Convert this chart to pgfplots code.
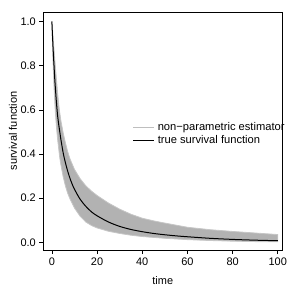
\documentclass[border=0pt]{standalone}
\usepackage{fontspec}
\setmainfont{Liberation Sans}
\usepackage{pgfplots}
\pgfplotsset{compat=1.18}
\definecolor{band}{RGB}{178,178,178}
\definecolor{bandedge}{RGB}{198,198,198}
\definecolor{rgray}{RGB}{190,190,190}
\begin{document}
\begin{tikzpicture}
\begin{axis}[name=ax, scale only axis, width=239bp, height=238bp,
  xmin=-3.8, xmax=102, ymin=-0.035, ymax=1.043,
  axis line style={line width=0.6bp},
  xtick={0,20,40,60,80,100}, ytick={0,0.2,0.4,0.6,0.8,1.0},
  tick align=outside, tick pos=left, major tick length=4bp,
  every tick/.style={black, line width=0.6bp},
  /pgf/number format/assume math mode=true,
  yticklabel style={/pgf/number format/.cd, fixed, fixed zerofill, precision=1},
  tick label style={font=\fontsize{11}{13}\selectfont},
  xlabel={time}, ylabel={survival function},
  label style={font=\fontsize{11}{13}\selectfont},
  xlabel style={at={(axis description cs:0.5,-0.13)}, anchor=center},
  ylabel style={at={(axis description cs:-0.127,0.5)}, anchor=center},
  legend style={draw=none, fill=none, at={(axis cs:34.4,0.49)}, anchor=west,
    font=\fontsize{11.2}{13}\selectfont, row sep=0bp,
    nodes={inner xsep=3bp, inner ysep=0.5bp, text height=9bp, text depth=3.5bp}},
  legend cell align=left,
  legend image code/.code={\draw[#1] (0bp,0bp) -- (21bp,0bp);},
]
\addplot[fill=band, draw=bandedge, line width=0.8bp, forget plot] coordinates {
(0,1) (0.5,0.93) (1,0.865) (1.5,0.80) (2,0.74) (2.5,0.68) (3,0.627) (3.5,0.585)
(4,0.55) (5,0.495) (6,0.45) (7,0.41) (8,0.378) (10,0.33) (12.5,0.288) (15,0.256)
(17.5,0.232) (20,0.212) (25,0.178) (30,0.15) (35,0.127) (40,0.109) (45,0.097)
(50,0.087) (60,0.068) (70,0.057) (80,0.049) (90,0.042) (100,0.035)
(100,0.002) (90,0.003) (80,0.005) (70,0.008) (60,0.012) (50,0.018) (45,0.022)
(40,0.026) (35,0.032) (30,0.04) (25,0.05) (20,0.065) (17.5,0.076) (15,0.092)
(12.5,0.118) (10,0.155) (8,0.197) (7,0.222) (6,0.255) (5,0.297) (4,0.35)
(3.5,0.382) (3,0.425) (2.5,0.47) (2,0.525) (1.5,0.595) (1,0.69) (0.5,0.82) (0,1)
} -- cycle;
\addlegendimage{rgray, line width=1bp}
\addlegendentry{non−parametric estimator}
\addplot[black, line width=1bp, smooth] coordinates {
(0,1.000) (0.25,0.94) (0.5,0.885) (0.75,0.835) (1,0.79) (1.3,0.735) (1.6,0.69)
(2,0.635) (2.5,0.577) (3,0.535) (3.5,0.50) (4,0.465) (5,0.405) (6,0.36)
(7,0.322) (8,0.29) (9,0.263) (10,0.24) (12.5,0.195) (15,0.163) (17.5,0.138)
(20,0.12) (25,0.092) (30,0.072) (35,0.058) (40,0.048) (45,0.04) (50,0.034)
(55,0.029) (60,0.025) (70,0.018) (80,0.013) (90,0.0095) (100,0.007)
};
\addlegendentry{true survival function}
\end{axis}
\pgfresetboundingbox
\path[use as bounding box] ([xshift=-43.3bp,yshift=-39bp]ax.south west) rectangle ([xshift=6.7bp,yshift=12bp]ax.north east);
\end{tikzpicture}
\end{document}
